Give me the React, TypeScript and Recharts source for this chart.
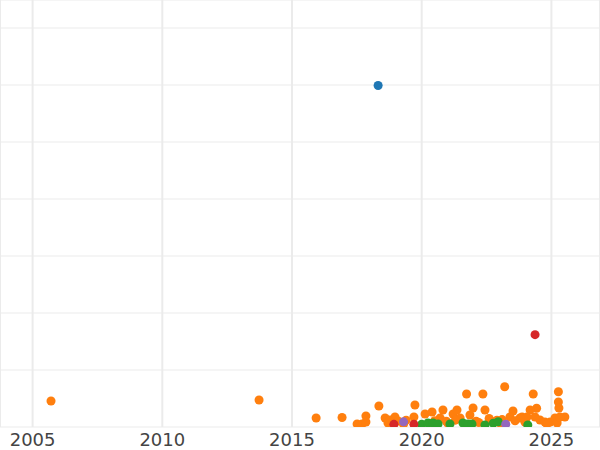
import React from "react";
import { ScatterChart, Scatter, XAxis, YAxis, CartesianGrid } from "recharts";

const yearTicks = [2005, 2010, 2015, 2020, 2025];
const valueTicks = [1, 2, 3, 4, 5, 6, 7];

const blueYears = [2018.32];
const blueValues = [5.99];

const redYears = [2024.37, 2018.93, 2019.7];
const redValues = [1.62, 0.047, 0.047];

const purpleYears = [2019.3, 2023.24];
const purpleValues = [0.09, 0.05];

const greenYears = [2020.0, 2020.24, 2020.44, 2020.63, 2021.09, 2021.59, 2021.78, 2021.94, 2022.44, 2022.76, 2022.95, 2024.09];
const greenValues = [0.047, 0.07, 0.07, 0.053, 0.053, 0.07, 0.053, 0.053, 0.035, 0.065, 0.093, 0.035];

const orangeYears = [
  2005.71, 2013.73, 2015.93, 2016.93, 2017.51, 2017.7, 2017.85, 2017.85, 2018.35, 2018.59,
  2018.78, 2018.97, 2019.09, 2018.7, 2019.74, 2019.7, 2020.13, 2020.4, 2020.82, 2020.71,
  2021.21, 2021.36, 2021.48, 2021.73, 2021.98, 2021.86, 2022.36, 2022.44, 2022.75, 2023.2,
  2023.52, 2023.4, 2023.87, 2023.98, 2023.02, 2024.3, 2024.43, 2024.18, 2024.06, 2024.37,
  2023.79, 2024.56, 2024.75, 2024.95, 2025.14, 2025.27, 2025.27, 2025.29, 2025.52, 2024.83,
  2025.22, 2025.33, 2019.4, 2020.5, 2020.95, 2021.3, 2022.1, 2022.6, 2023.1, 2023.6,
  2019.3, 2020.3, 2021.0, 2022.2, 2022.9,
];
const orangeValues = [
  0.456, 0.474, 0.158, 0.167, 0.053, 0.053, 0.088, 0.193, 0.368, 0.158,
  0.123, 0.175, 0.105, 0.07, 0.386, 0.175, 0.228, 0.263, 0.298, 0.158,
  0.228, 0.298, 0.158, 0.579, 0.333, 0.211, 0.579, 0.298, 0.093, 0.707,
  0.281, 0.175, 0.175, 0.088, 0.07, 0.579, 0.328, 0.298, 0.175, 0.175,
  0.158, 0.123, 0.088, 0.088, 0.158, 0.619, 0.439, 0.333, 0.175, 0.053,
  0.07, 0.175, 0.12, 0.11, 0.1, 0.12, 0.1, 0.15, 0.13, 0.11,
  0.05, 0.06, 0.07, 0.08, 0.12,
];

const toPoints = (xs: number[], ys: number[]) => xs.map((x, i) => ({ x, y: ys[i] }));

const xDomain = [2003.743, 2026.874];
const yDomain = [0, 7.491];

export default function App() {
  return (
    <div style={{ position: "absolute", left: 0, top: 0 }}>
      <ScatterChart width={600} height={450} margin={{ top: 0, right: 0, bottom: 0, left: 0 }}>
        <CartesianGrid horizontal={true} vertical={false} stroke="#ebebeb" strokeWidth={1} />
        <CartesianGrid horizontal={false} vertical={true} stroke="#ebebeb" strokeWidth={2} />
        <XAxis
          type="number"
          dataKey="x"
          domain={xDomain}
          ticks={yearTicks}
          allowDataOverflow
          axisLine={false}
          tickLine={false}
          tickMargin={0}
          height={23}
          tick={{ fill: "#444", fontSize: 18, fontFamily: "DejaVu Sans" }}
          interval={0}
        />
        <YAxis
          type="number"
          dataKey="y"
          domain={yDomain}
          ticks={valueTicks}
          allowDataOverflow
          hide
          width={0}
        />
        <Scatter data={toPoints(blueYears, blueValues)} fill="#1f77b4" isAnimationActive={false} />
        <Scatter data={toPoints(orangeYears, orangeValues)} fill="#ff7f0e" isAnimationActive={false} />
        <Scatter data={toPoints(greenYears, greenValues)} fill="#2ca02c" isAnimationActive={false} />
        <Scatter data={toPoints(redYears, redValues)} fill="#d62728" isAnimationActive={false} />
        <Scatter data={toPoints(purpleYears, purpleValues)} fill="#9467bd" isAnimationActive={false} />
      </ScatterChart>
    </div>
  );
}
